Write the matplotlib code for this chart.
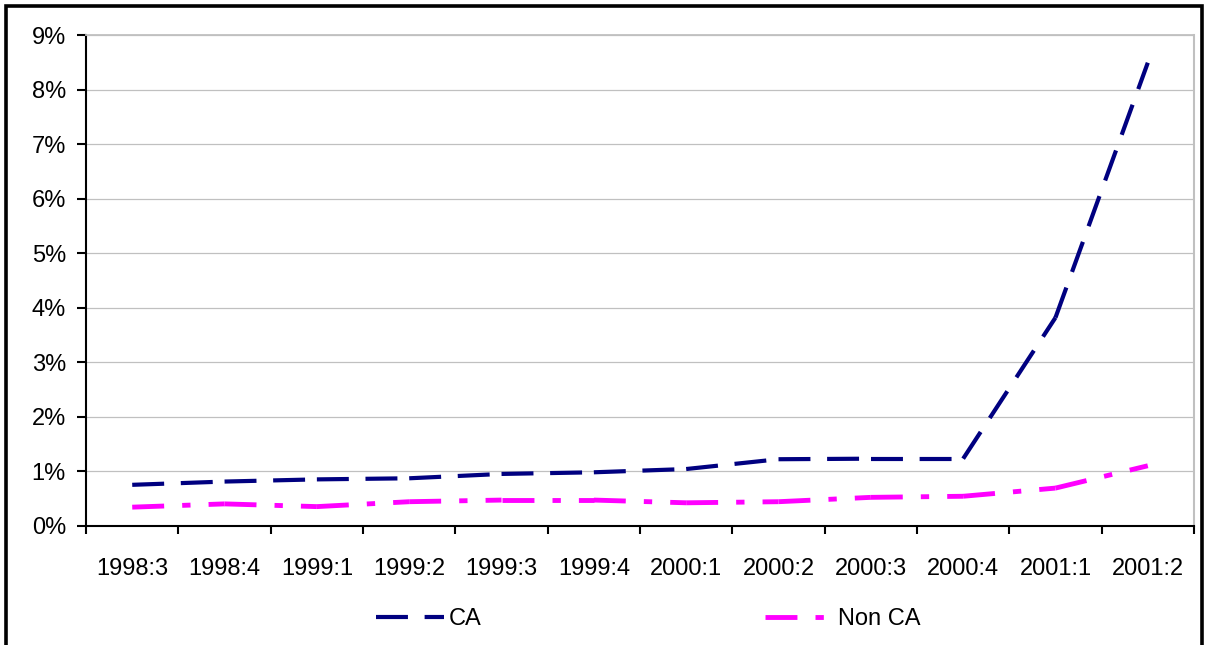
import matplotlib.pyplot as plt
from matplotlib.lines import Line2D
from matplotlib.patches import Rectangle
from matplotlib.ticker import FixedLocator, FuncFormatter

plt.rcParams['font.family'] = ['Liberation Sans', 'DejaVu Sans']
plt.rcParams['lines.scale_dashes'] = False

quarters = ['1998:3', '1998:4', '1999:1', '1999:2', '1999:3', '1999:4',
            '2000:1', '2000:2', '2000:3', '2000:4', '2001:1', '2001:2']
ca = [0.75, 0.81, 0.85, 0.87, 0.95, 0.98, 1.04, 1.22, 1.23, 1.23, 3.82, 8.50]
non_ca = [0.34, 0.40, 0.35, 0.44, 0.47, 0.47, 0.42, 0.44, 0.52, 0.54, 0.69, 1.10]

navy = '#000080'
magenta = '#FF00FF'
grey = '#C0C0C0'
ca_dash = (0, (23, 12))
non_ca_dash = (0, (23, 13, 6, 13))

fig = plt.figure(figsize=(12.07, 6.45), dpi=100)
ax = fig.add_axes([0.0713, 0.185, 0.9179, 0.760])

x = list(range(len(quarters)))


def plot_segments(ys, color, lw, dash):
    # each segment restarts its dash pattern at the data point
    for i in range(len(ys) - 1):
        ax.plot(x[i:i + 2], ys[i:i + 2], color=color, lw=lw,
                linestyle=dash, dash_capstyle='butt', solid_capstyle='butt')


plot_segments(ca, navy, 3.0, ca_dash)
plot_segments(non_ca, magenta, 3.5, non_ca_dash)

ax.set_xlim(-0.5, len(quarters) - 0.5)
ax.set_ylim(0, 9)

# category axis: tick marks between categories, labels centred
ax.xaxis.set_major_locator(FixedLocator([i - 0.5 for i in range(len(quarters) + 1)]))
ax.xaxis.set_major_formatter(FuncFormatter(lambda v, p: ''))
ax.xaxis.set_minor_locator(FixedLocator(x))
ax.set_xticklabels(quarters, minor=True)
ax.tick_params(axis='x', which='major', direction='out', length=6, width=1.5, color='black')
ax.tick_params(axis='x', which='minor', length=0, pad=23, labelsize=17)

ax.set_yticks(range(0, 10))
ax.yaxis.set_major_formatter(FuncFormatter(lambda v, p: '%d%%' % v))
ax.tick_params(axis='y', direction='out', length=6.5, width=1.5, pad=8, labelsize=17)

ax.grid(axis='y', color=grey, lw=0.9)
ax.set_axisbelow(True)

ax.spines['left'].set_color('black')
ax.spines['left'].set_linewidth(1.5)
ax.spines['bottom'].set_color('black')
ax.spines['bottom'].set_linewidth(1.5)
ax.spines['bottom'].set_zorder(5)
ax.spines['top'].set_color(grey)
ax.spines['top'].set_linewidth(1.3)
ax.spines['right'].set_color(grey)
ax.spines['right'].set_linewidth(1.5)

handles = [Line2D([], [], color=navy, lw=3.0, linestyle=ca_dash),
           Line2D([], [], color=magenta, lw=3.5, linestyle=non_ca_dash)]
fig.legend(handles, ['CA', 'Non CA'], loc='center', ncol=2, frameon=False,
           bbox_to_anchor=(648 / 1207, 1 - 619 / 645), fontsize=17,
           handlelength=2.9, handletextpad=0.2, columnspacing=12)

# thick frame around the chart area
fig.patches.append(Rectangle((5.5 / 1207, -0.1), 1196 / 1207, 1.1 - 5.5 / 645,
                             transform=fig.transFigure, fill=False,
                             edgecolor='black', lw=2.6, clip_on=False))

fig.savefig('out.png', dpi=100)
